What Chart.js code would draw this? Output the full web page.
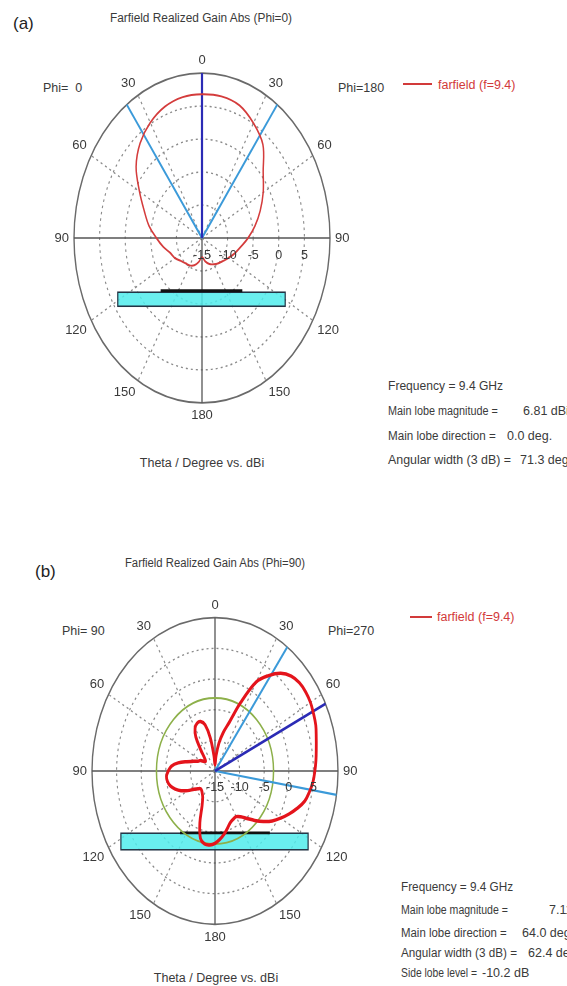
<!DOCTYPE html>
<html>
<head>
<meta charset="utf-8">
<script src="https://cdn.jsdelivr.net/npm/chart.js@4.4.1/dist/chart.umd.min.js"></script>
<style>
  html, body { margin: 0; padding: 0; background: #fff; }
  body {
    width: 567px; height: 986px; position: relative; overflow: hidden;
    font-family: "Liberation Sans", Arial, sans-serif; color: #3a3a3a;
  }
  .t { position: absolute; white-space: nowrap; line-height: 1; transform: translateY(-50%); transform-origin: 0 50%; font-size: 12.5px; }
  .c { transform: translate(-50%, -50%); transform-origin: 50% 50%; }
  .tag { font-size: 17px; color: #222; }
  .ttl { font-size: 12.5px; }
  .red { color: #d23a3a; }
  .key { position: absolute; height: 2px; background: #d23a3a; }
  canvas { position: absolute; }
</style>
</head>
<body>

<!-- panel (a) -->
<div class="t tag" style="left:13px; top:23px;">(a)</div>
<div class="t ttl c" data-w="182" style="left:201px; top:18px;">Farfield Realized Gain Abs (Phi=0)</div>
<div class="t" style="left:43px; top:88px;">Phi=&nbsp; 0</div>
<div class="t" style="left:338px; top:88px;">Phi=180</div>
<div class="key" style="left:403px; top:83px; width:29px;"></div>
<div class="t red" style="left:438px; top:85px;">farfield (f=9.4)</div>
<div class="t c" style="left:202px; top:463px;">Theta / Degree vs. dBi</div>
<div class="t" data-w="115" style="left:388px; top:386px;">Frequency = 9.4 GHz</div>
<div class="t" data-w="110" style="left:388px; top:411px;">Main lobe magnitude =</div>
<div class="t" style="left:523px; top:411px;">6.81 dBi</div>
<div class="t" data-w="108" style="left:388px; top:436px;">Main lobe direction =</div>
<div class="t" style="left:507px; top:436px;">0.0 deg.</div>
<div class="t" data-w="123" style="left:388px; top:460px;">Angular width (3 dB) =</div>
<div class="t" style="left:520px; top:460px;">71.3 deg.</div>
<canvas id="chartA" width="409" height="440" style="left:-2px; top:18px; width:409px; height:440px;"></canvas>

<!-- panel (b) -->
<div class="t tag" style="left:35px; top:571px;">(b)</div>
<div class="t ttl c" data-w="180" style="left:215px; top:563px;">Farfield Realized Gain Abs (Phi=90)</div>
<div class="t" style="left:62px; top:631px;">Phi=&nbsp;90</div>
<div class="t" style="left:328px; top:631px;">Phi=270</div>
<div class="key" style="left:410px; top:616px; width:22px;"></div>
<div class="t red" style="left:437px; top:617px;">farfield (f=9.4)</div>
<div class="t c" style="left:216px; top:978px;">Theta / Degree vs. dBi</div>
<div class="t" data-w="112" style="left:401px; top:887px;">Frequency = 9.4 GHz</div>
<div class="t" data-w="107" style="left:401px; top:910px;">Main lobe magnitude =</div>
<div class="t" style="left:549px; top:910px;">7.11 dBi</div>
<div class="t" data-w="106" style="left:401px; top:933px;">Main lobe direction =</div>
<div class="t" style="left:522px; top:933px;">64.0 deg.</div>
<div class="t" data-w="116" style="left:401px; top:953px;">Angular width (3 dB) =</div>
<div class="t" style="left:528px; top:953px;">62.4 deg.</div>
<div class="t" data-w="76" style="left:401px; top:973px;">Side lobe level =</div>
<div class="t" style="left:482px; top:973px;">-10.2 dB</div>
<canvas id="chartB" width="407" height="420" style="left:12px; top:561px; width:407px; height:420px;"></canvas>

<script>
// theta tick labels, every 30 deg clockwise from the top
const THETA_TICKS = [0, 30, 60, 90, 120, 150, 180, 150, 120, 90, 60, 30];
const DB_TICKS = [-15, -10, -5, 0, 5];
const DB_MIN = -15;
const DB_MAX = 10;

// (a) Phi=0 cut: gain in dBi, theta clockwise from top
const thetaA = [0, 10, 20, 30, 40, 50, 60, 70, 80, 90, 100, 110, 120, 130, 140, 150, 160, 170,
  180, 190, 200, 210, 220, 230, 240, 250, 260, 270, 280, 290, 300, 310, 320, 330, 340, 350];
const gainA = [6.8, 6.8, 6.4, 5.1, 3.5, 0.6, -1.2, -2.9, -4.5, -6.0, -7.3, -8.2, -9.0, -9.6, -10.0, -10.4, -10.8, -11.4,
  -12.1, -11.3, -10.6, -10.2, -10.0, -9.6, -8.9, -8.4, -7.3, -6.1, -4.5, -3.0, -0.9, 1.8, 3.8, 5.2, 6.2, 6.7];
const mainDirA = [0];
const beamEdgesA = [36, 324];

// (b) Phi=90 cut
const thetaB = [0, 5, 10, 15, 20, 25, 30, 35, 40, 45, 50, 55, 60, 65, 70, 75, 80, 85,
  90, 95, 100, 105, 110, 115, 120, 125, 130, 135, 140, 145, 150, 155, 160, 165, 170, 175,
  180, 185, 190, 195, 200, 205, 210, 215, 220, 225, 230, 235, 240, 245, 250, 255, 260, 265,
  270, 275, 280, 285, 290, 295, 300, 305, 310, 315, 320, 325, 330, 335, 340, 345, 350, 355];
const gainB = [-14.0, -12.5, -10.4, -8.5, -6.6, -2.7, 1.8, 4.0, 5.8, 6.9, 7.4, 7.5, 7.4, 7.1, 6.8, 6.3, 5.9, 5.6,
  5.3, 5.0, 4.5, 3.9, 2.8, 1.6, 0.4, -0.8, -2.2, -3.6, -4.9, -5.9, -6.4, -6.3, -6.0, -5.3, -4.5, -3.8,
  -3.2, -2.9, -2.9, -3.6, -6.0, -8.8, -10.0, -10.5, -10.8, -10.9, -10.5, -9.8, -8.6, -7.4, -6.4, -5.6, -5.2, -5.1,
  -5.5, -6.1, -7.4, -9.1, -10.4, -11.2, -11.6, -12.3, -12.5, -12.0, -10.5, -8.2, -6.9, -6.4, -6.4, -7.2, -9.5, -12.5];
const mainDirB = [64];
const beamEdgesB = [36, 99];
const sideLobeB = -3.1;

const ANGLES = Array.from({ length: 360 }, (_, i) => i);

function onGrid(theta, vals) {
  const out = new Array(360).fill(null);
  theta.forEach((t, i) => { out[t] = vals[i]; });
  return out;
}

// straight line from the rim to the centre at one angle
function ray(deg) {
  const out = new Array(360).fill(null);
  out[deg] = DB_MAX;
  out[(deg + 1) % 360] = DB_MIN;
  return out;
}

const farfieldPlugin = {
  id: 'farfield',
  beforeDraw(chart, args, o) {
    // CST draws the polar plot as an ellipse: stretch vertically about the centre
    const r = chart.scales.r, ctx = chart.ctx;
    ctx.save();
    ctx.translate(0, r.yCenter);
    ctx.scale(1, o.stretch);
    ctx.translate(0, -r.yCenter);
  },
  beforeDatasetsDraw(chart, args, o) {
    const r = chart.scales.r, ctx = chart.ctx;
    const R = r.drawingArea, cx = r.xCenter, cy = r.yCenter;
    const a = o.antenna;
    ctx.save();
    ctx.fillStyle = 'rgba(80, 236, 236, 0.85)';
    ctx.strokeStyle = '#234';
    ctx.lineWidth = 1.2;
    ctx.fillRect(cx + a.left * R, cy + a.top * R, (a.right - a.left) * R, (a.bottom - a.top) * R);
    ctx.strokeRect(cx + a.left * R, cy + a.top * R, (a.right - a.left) * R, (a.bottom - a.top) * R);
    ctx.strokeStyle = '#111';
    ctx.lineWidth = 2.2;
    ctx.beginPath();
    ctx.moveTo(cx + a.metalLeft * R, cy + a.metalY * R);
    ctx.lineTo(cx + a.metalRight * R, cy + a.metalY * R);
    ctx.stroke();
    if (o.sideLobe != null) {
      ctx.strokeStyle = '#8db04a';
      ctx.lineWidth = 1.5;
      ctx.beginPath();
      ctx.arc(cx, cy, r.getDistanceFromCenterForValue(o.sideLobe), 0, Math.PI * 2);
      ctx.stroke();
    }
    ctx.restore();
  },
  afterDraw(chart, args, o) {
    const r = chart.scales.r, ctx = chart.ctx;
    ctx.restore();
    const cx = r.xCenter, cy = r.yCenter, R = r.drawingArea, s = o.stretch;
    ctx.save();
    ctx.fillStyle = '#3a3a3a';
    ctx.font = '13px "Liberation Sans", Arial, sans-serif';
    ctx.textBaseline = 'middle';
    THETA_TICKS.forEach((lab, k) => {
      const deg = k * 30;
      const p = r.getPointPosition(deg, R + 5);
      const y = cy + (p.y - cy) * s;
      ctx.textAlign = deg === 0 || deg === 180 ? 'center' : (deg < 180 ? 'left' : 'right');
      let yc = y;
      if (deg < 90 || deg > 270) yc = y - 6.5;
      else if (deg > 90 && deg < 270) yc = y + 6.5;
      ctx.fillText(String(lab), p.x, yc);
    });
    ctx.font = '12.5px "Liberation Sans", Arial, sans-serif';
    ctx.textAlign = 'center';
    DB_TICKS.forEach(v => {
      ctx.fillText(String(v), cx + r.getDistanceFromCenterForValue(v), cy + o.dbOffset);
    });
    ctx.restore();
  }
};

function rayDataset(deg, color, width) {
  return {
    data: ray(deg), borderColor: color, borderWidth: width,
    pointRadius: 0, spanGaps: false, fill: false, clip: false
  };
}

function makeChart(id, theta, gain, mainDir, edges, curve, plug, pad) {
  const datasets = [{
    label: 'farfield (f=9.4)',
    data: onGrid(theta, gain),
    borderColor: curve.color,
    borderWidth: curve.width,
    pointRadius: 0,
    spanGaps: true,
    tension: 0.35,
    fill: false,
    clip: false,
    borderJoinStyle: 'round'
  }];
  mainDir.forEach(d => datasets.push(rayDataset(d, '#2b2bb5', 2.2)));
  edges.forEach(d => datasets.push(rayDataset(d, '#3b9ad9', 1.8)));

  return new Chart(document.getElementById(id), {
    type: 'radar',
    data: { labels: ANGLES, datasets },
    options: {
      responsive: false,
      animation: false,
      events: [],
      layout: { padding: pad },
      plugins: {
        legend: { display: false },
        tooltip: { enabled: false },
        farfield: plug
      },
      scales: {
        r: {
          min: DB_MIN,
          max: DB_MAX,
          ticks: { display: false, stepSize: 5 },
          pointLabels: { display: false },
          grid: {
            circular: true,
            color: c => c.tick && c.tick.value === DB_MAX ? '#6a6a6a' : '#8a8a8a',
            lineWidth: c => c.tick && c.tick.value === DB_MAX ? 1.4 : 1.1
          },
          border: { dash: c => c.tick && c.tick.value === DB_MAX ? [] : [2, 3] },
          angleLines: {
            color: c => c.index % 90 === 0 ? '#555' : '#8a8a8a',
            lineWidth: c => c.index % 30 === 0 ? (c.index % 90 === 0 ? 1.3 : 1.1) : 0,
            borderDash: c => c.index % 90 === 0 ? [] : [2, 3]
          }
        }
      }
    },
    plugins: [farfieldPlugin]
  });
}

makeChart('chartA', thetaA, gainA, mainDirA, beamEdgesA,
  { color: '#d43c3c', width: 1.5 },
  {
    stretch: 1.288, dbOffset: 18,
    antenna: { left: -0.658, right: 0.650, top: 0.329, bottom: 0.414, metalY: 0.32, metalLeft: -0.323, metalRight: 0.315 }
  },
  { left: 76, right: 76, top: 92, bottom: 91 });

makeChart('chartB', thetaB, gainB, mainDirB, beamEdgesB,
  { color: '#e4141c', width: 2.8 },
  {
    stretch: 1.246, dbOffset: 16.5, sideLobe: sideLobeB,
    antenna: { left: -0.765, right: 0.757, top: 0.406, bottom: 0.514, metalY: 0.404, metalLeft: -0.284, metalRight: 0.446 }
  },
  { left: 80, right: 80, top: 87, bottom: 86 });

// squeeze or widen text lines to the widths measured on the reference
document.querySelectorAll('[data-w]').forEach(el => {
  const k = Number(el.dataset.w) / el.offsetWidth;
  const base = el.classList.contains('c') ? 'translate(-50%, -50%)' : 'translateY(-50%)';
  el.style.transform = base + ' scaleX(' + k.toFixed(3) + ')';
});
</script>
</body>
</html>
